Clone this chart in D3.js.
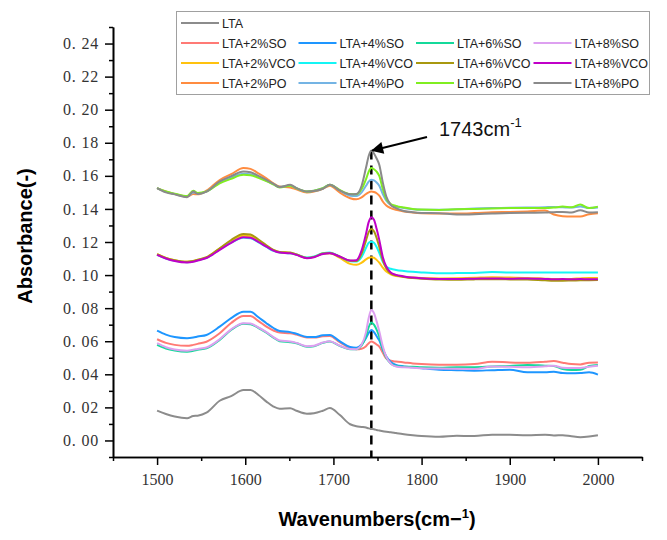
<!DOCTYPE html>
<html><head><meta charset="utf-8">
<script src="https://cdn.jsdelivr.net/npm/d3@7/dist/d3.min.js"></script>
<style>body{margin:0;background:#fff}</style></head>
<body>
<svg id="chart" width="667" height="540"></svg>
<script>
// ---------- DATA ----------
const wavenumbers = [1500,1510,1520,1534,1541,1546,1556,1571,1584,1598,1606,1615,1624,1632,1639,1651,1658,1670,1678,1688,1696,1707,1719,1726,1732,1737,1740,1743,1746,1749,1752,1756,1760,1765,1771,1780,1790,1800,1820,1840,1860,1880,1900,1920,1940,1950,1960,1970,1980,1990,2000];

const LTA = [.0180,.0160,.0145,.0135,.0148,.0150,.0168,.0240,.0268,.0305,.0305,.0275,.0235,.0205,.0192,.0195,.0180,.0162,.0165,.0180,.0196,.0155,.0098,.0086,.0082,.0078,.0073,.0070,.0068,.0063,.0060,.0056,.0053,.0050,.0045,.0038,.0032,.0027,.0022,.0028,.0027,.0035,.0034,.0032,.0035,.0030,.0032,.0025,.0020,.0024,.0032];

const SO2 = [.0612,.0590,.0578,.0572,.0578,.0584,.0597,.0648,.0710,.0753,.0752,.0722,.0688,.0665,.0652,.0648,.0640,.0622,.0622,.0630,.0632,.0594,.0560,.0552,.0555,.0570,.0588,.0598,.0592,.0580,.0568,.0530,.0495,.0482,.0477,.0472,.0466,.0462,.0458,.0458,.0462,.0476,.0472,.0470,.0476,.0480,.0470,.0462,.0460,.0470,.0471];
const SO4 = [.0664,.0640,.0625,.0618,.0622,.0628,.0638,.0688,.0740,.0779,.0778,.0745,.0709,.0680,.0662,.0655,.0645,.0626,.0625,.0636,.0638,.0600,.0565,.0560,.0580,.0620,.0650,.0668,.0655,.0630,.0605,.0550,.0507,.0475,.0457,.0448,.0442,.0437,.0428,.0425,.0422,.0425,.0428,.0412,.0412,.0415,.0408,.0406,.0408,.0412,.0398];
const SO6 = [.0578,.0556,.0544,.0537,.0542,.0548,.0557,.0608,.0668,.0705,.0703,.0680,.0652,.0622,.0600,.0594,.0588,.0567,.0570,.0590,.0598,.0572,.0552,.0552,.0575,.0630,.0685,.0713,.0700,.0670,.0628,.0555,.0500,.0465,.0450,.0446,.0445,.0442,.0440,.0443,.0443,.0447,.0450,.0457,.0452,.0450,.0432,.0426,.0428,.0450,.0457];
const SO8 = [.0588,.0564,.0550,.0543,.0548,.0553,.0562,.0612,.0672,.0709,.0707,.0683,.0655,.0625,.0604,.0598,.0590,.0570,.0573,.0592,.0600,.0574,.0553,.0552,.0580,.0655,.0740,.0789,.0770,.0720,.0660,.0570,.0505,.0465,.0447,.0442,.0440,.0437,.0435,.0433,.0432,.0447,.0445,.0443,.0448,.0452,.0440,.0438,.0438,.0446,.0452];

const VCO2 = [.1126,.1104,.1090,.1080,.1085,.1092,.1106,.1160,.1205,.1238,.1235,.1205,.1175,.1150,.1138,.1134,.1124,.1104,.1110,.1130,.1132,.1105,.1068,.1062,.1075,.1095,.1105,.1108,.1105,.1092,.1075,.1045,.1021,.1005,.0995,.0990,.0985,.0982,.0980,.0981,.0984,.0987,.0985,.0983,.0978,.0976,.0976,.0977,.0980,.0982,.0982];
const VCO4 = [.1122,.1100,.1086,.1078,.1083,.1090,.1104,.1155,.1196,.1225,.1222,.1198,.1170,.1146,.1136,.1132,.1124,.1106,.1112,.1132,.1136,.1112,.1084,.1082,.1110,.1165,.1195,.1202,.1195,.1170,.1135,.1080,.1050,.1038,.1031,.1025,.1020,.1016,.1011,.1012,.1013,.1018,.1015,.1016,.1015,.1016,.1015,.1015,.1015,.1015,.1015];
const VCO6 = [.1126,.1104,.1090,.1080,.1085,.1093,.1108,.1162,.1212,.1249,.1245,.1215,.1180,.1152,.1140,.1136,.1125,.1104,.1110,.1130,.1134,.1112,.1086,.1085,.1130,.1210,.1260,.1278,.1265,.1225,.1170,.1090,.1040,.1010,.0998,.0988,.0982,.0978,.0973,.0972,.0974,.0975,.0974,.0973,.0968,.0966,.0966,.0967,.0968,.0969,.0970];
const VCO8 = [.1122,.1100,.1085,.1076,.1080,.1088,.1103,.1152,.1195,.1229,.1226,.1200,.1172,.1148,.1136,.1132,.1122,.1102,.1108,.1128,.1132,.1112,.1088,.1090,.1150,.1250,.1320,.1350,.1335,.1280,.1213,.1110,.1051,.1015,.1001,.0992,.0985,.0981,.0977,.0976,.0978,.0980,.0978,.0980,.0977,.0975,.0976,.0975,.0976,.0975,.0975];

const PO2 = [.1526,.1505,.1490,.1475,.1490,.1488,.1510,.1575,.1610,.1647,.1642,.1615,.1585,.1555,.1535,.1530,.1518,.1500,.1505,.1522,.1540,.1500,.1465,.1458,.1470,.1490,.1500,.1505,.1502,.1495,.1480,.1445,.1420,.1405,.1395,.1385,.1378,.1374,.1372,.1372,.1375,.1380,.1382,.1385,.1390,.1366,.1356,.1354,.1354,.1368,.1374];
const PO4 = [.1526,.1503,.1490,.1475,.1500,.1494,.1505,.1560,.1590,.1612,.1610,.1592,.1570,.1550,.1532,.1542,.1525,.1505,.1510,.1525,.1546,.1512,.1480,.1478,.1500,.1540,.1565,.1576,.1572,.1560,.1540,.1490,.1450,.1425,.1415,.1405,.1398,.1395,.1395,.1398,.1402,.1405,.1407,.1408,.1410,.1412,.1410,.1408,.1415,.1405,.1408];
const PO6 = [.1526,.1505,.1492,.1478,.1510,.1496,.1505,.1555,.1582,.1606,.1604,.1588,.1568,.1548,.1530,.1540,.1525,.1505,.1510,.1525,.1546,.1515,.1490,.1488,.1520,.1580,.1625,.1647,.1640,.1625,.1600,.1520,.1460,.1430,.1418,.1408,.1400,.1396,.1394,.1398,.1400,.1403,.1405,.1406,.1405,.1408,.1414,.1410,.1427,.1405,.1414];
const PO8 = [.1526,.1500,.1488,.1471,.1505,.1490,.1505,.1566,.1598,.1626,.1622,.1600,.1576,.1552,.1532,.1546,.1526,.1505,.1508,.1522,.1546,.1512,.1488,.1490,.1540,.1650,.1720,.1753,.1735,.1705,.1667,.1560,.1475,.1425,.1405,.1388,.1380,.1376,.1374,.1366,.1368,.1372,.1375,.1377,.1378,.1380,.1382,.1378,.1392,.1378,.1380];

const seriesNames = ["LTA","LTA+2%SO","LTA+4%SO","LTA+6%SO","LTA+8%SO","LTA+2%VCO","LTA+4%VCO","LTA+6%VCO","LTA+8%VCO","LTA+2%PO","LTA+4%PO","LTA+6%PO","LTA+8%PO"];
const seriesValues = [LTA,SO2,SO4,SO6,SO8,VCO2,VCO4,VCO6,VCO8,PO2,PO4,PO6,PO8];
const seriesColors = ["#8c8c8c","#ff7a75","#1e96ff","#14d99a","#dda0f0","#ffc20e","#14f5f5","#a8980f","#c000c8","#ff8c40","#74b4e4","#80ee20","#8a8a8a"];

const yMajorTicks = [0,0.02,0.04,0.06,0.08,0.10,0.12,0.14,0.16,0.18,0.20,0.22,0.24];
const yMinorTicks = [-0.01,0.01,0.03,0.05,0.07,0.09,0.11,0.13,0.15,0.17,0.19,0.21,0.23,0.25];
const xMajorTicks = [1500,1600,1700,1800,1900,2000];
const xMinorTicks = [1450,1550,1650,1750,1850,1950,2050];
const peakWavenumber = 1743;
const peakAbsorbance = 0.1753;

// ---------- CHART ----------
const svg = d3.select("#chart");
const x = d3.scaleLinear().domain([1450, 2050]).range([113, 642]);
const y = d3.scaleLinear().domain([-0.01, 0.25]).range([457, 27]);

const serif = "'Liberation Serif','Times New Roman',serif";
const sans = "'Liberation Sans',Arial,sans-serif";

// dashed marker line
svg.append("line")
  .attr("x1", x(peakWavenumber)).attr("x2", x(peakWavenumber))
  .attr("y1", y(peakAbsorbance)).attr("y2", y(-0.01))
  .attr("stroke", "#000").attr("stroke-width", 2.5)
  .attr("stroke-dasharray", "9,6");

// curves
const line = d3.line()
  .x((d, i) => x(wavenumbers[i]))
  .y(d => y(d))
  .curve(d3.curveMonotoneX);

seriesValues.forEach((vals, k) => {
  svg.append("path")
    .datum(vals)
    .attr("d", line)
    .attr("fill", "none")
    .attr("stroke", seriesColors[k])
    .attr("stroke-width", 2)
    .attr("stroke-linejoin", "round");
});

// axes
const yAxis = svg.append("g").attr("transform", "translate(113,0)")
  .call(d3.axisLeft(y).tickValues(yMajorTicks).tickSize(8).tickSizeOuter(0)
    .tickFormat(d => d3.format(".2f")(d).replace(".", ". ")));
svg.append("g").attr("transform", "translate(113,0)")
  .call(d3.axisLeft(y).tickValues(yMinorTicks).tickSize(4).tickSizeOuter(0).tickFormat(""));
const xAxis = svg.append("g").attr("transform", "translate(0,457)")
  .call(d3.axisBottom(x).tickValues(xMajorTicks).tickSize(8).tickSizeOuter(0).tickFormat(d3.format("d")));
svg.append("g").attr("transform", "translate(0,457)")
  .call(d3.axisBottom(x).tickValues(xMinorTicks).tickSize(4).tickSizeOuter(0).tickFormat(""));

svg.selectAll(".domain").attr("stroke", "#000").attr("stroke-width", 1.6);
svg.selectAll(".tick line").attr("stroke", "#000").attr("stroke-width", 1.5);
yAxis.selectAll("text").attr("font-family", serif).attr("font-size", 16).attr("letter-spacing", 0.8)
  .attr("fill", "#333").attr("x", -14);
xAxis.selectAll("text").attr("font-family", serif).attr("font-size", 16).attr("fill", "#333").attr("dy", "1.05em");

// axis titles
svg.append("text")
  .attr("transform", "translate(32,236) rotate(-90)")
  .attr("text-anchor", "middle")
  .attr("font-family", sans).attr("font-weight", "bold").attr("font-size", 20)
  .text("Absorbance(-)");

const xt = svg.append("text")
  .attr("x", 377).attr("y", 526)
  .attr("text-anchor", "middle")
  .attr("font-family", sans).attr("font-weight", "bold").attr("font-size", 20);
xt.append("tspan").text("Wavenumbers(cm\u2212");
xt.append("tspan").attr("dy", -8).attr("font-size", 13).text("1");
xt.append("tspan").attr("dy", 8).text(")");

// annotation arrow
svg.append("defs").append("marker")
  .attr("id", "arrow").attr("viewBox", "0 0 10 10")
  .attr("refX", 9).attr("refY", 5)
  .attr("markerWidth", 7).attr("markerHeight", 6)
  .attr("markerUnits", "strokeWidth")
  .attr("orient", "auto")
  .append("path").attr("d", "M0,0 L10,5 L0,10 z").attr("fill", "#000");
svg.append("line")
  .attr("x1", 427).attr("y1", 137)
  .attr("x2", x(peakWavenumber) + 1).attr("y2", y(peakAbsorbance))
  .attr("stroke", "#000").attr("stroke-width", 2)
  .attr("marker-end", "url(#arrow)");

const ann = svg.append("text").attr("x", 439).attr("y", 136)
  .attr("font-family", sans).attr("font-size", 20).attr("fill", "#111");
ann.append("tspan").text("1743cm");
ann.append("tspan").attr("dy", -9).attr("font-size", 13).text("-1");

// legend
const lg = svg.append("g");
lg.append("rect").attr("x", 176.5).attr("y", 11.5).attr("width", 473).attr("height", 83)
  .attr("fill", "#fff").attr("stroke", "#a0a0a0").attr("stroke-width", 1);
seriesNames.forEach((name, k) => {
  const row = k === 0 ? 0 : Math.floor((k - 1) / 4) + 1;
  const col = k === 0 ? 0 : (k - 1) % 4;
  const lx = 181 + col * 117.5;
  const ly = 23 + row * 20;
  lg.append("line").attr("x1", lx).attr("x2", lx + 38).attr("y1", ly).attr("y2", ly)
    .attr("stroke", seriesColors[k]).attr("stroke-width", 2);
  lg.append("text").attr("x", lx + 41).attr("y", ly + 4.5)
    .attr("font-family", sans).attr("font-size", 12.5).attr("fill", "#222")
    .text(name);
});
</script>
</body></html>
